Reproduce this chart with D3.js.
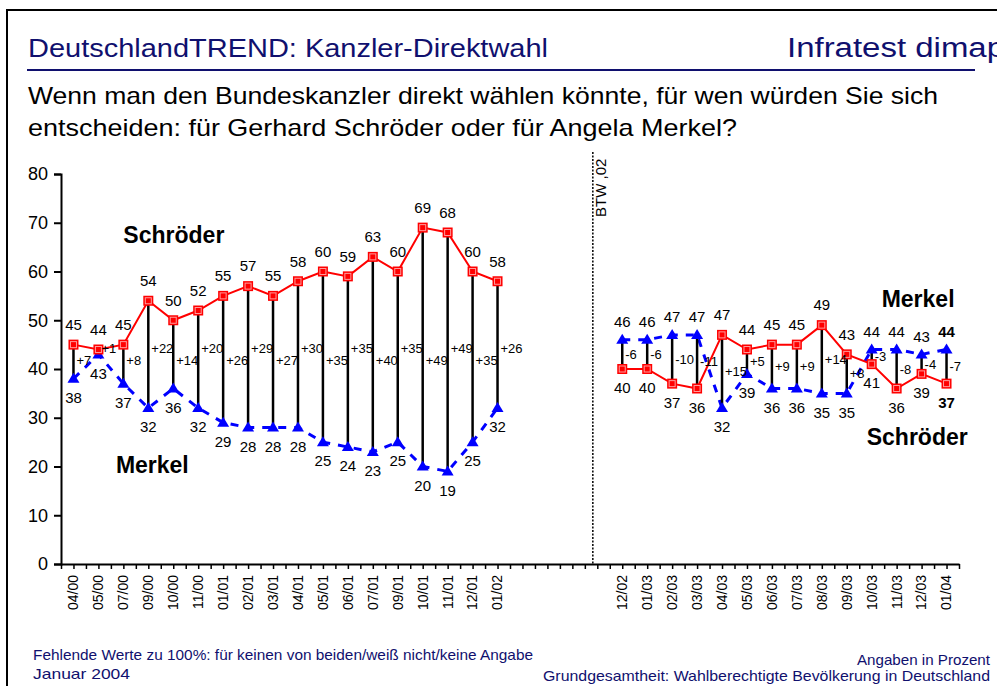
<!DOCTYPE html>
<html>
<head>
<meta charset="utf-8">
<script src="https://cdn.jsdelivr.net/npm/d3@7"></script>
<style>
    body { margin: 0; background: #fff; }
    svg text { font-family: "Liberation Sans", Arial, sans-serif; }
</style>
</head>
<body>
<div id="chart"></div>
<script>

// categories on the x axis (empty slots = gap around the election)
const categories = ["04/00", "05/00", "07/00", "09/00", "10/00", "11/00", "01/01", "02/01", "03/01",
    "04/01", "05/01", "06/01", "07/01", "09/01", "10/01", "11/01", "12/01", "01/02",
    "", "", "", "",
    "12/02", "01/03", "02/03", "03/03", "04/03", "05/03", "06/03", "07/03", "08/03",
    "09/03", "10/03", "11/03", "12/03", "01/04"];

// Schröder (red) and Merkel (blue), percent
const schroeder = [45, 44, 45, 54, 50, 52, 55, 57, 55, 58, 60, 59, 63, 60, 69, 68, 60, 58,
    null, null, null, null,
    40, 40, 37, 36, 47, 44, 45, 45, 49, 43, 41, 36, 39, 37];
const merkel = [38, 43, 37, 32, 36, 32, 29, 28, 28, 28, 25, 24, 23, 25, 20, 19, 25, 32,
    null, null, null, null,
    46, 46, 47, 47, 32, 39, 36, 36, 35, 35, 44, 44, 43, 44];

const yTicks = [0, 10, 20, 30, 40, 50, 60, 70, 80];

// first category after the Bundestagswahl 2002
const firstAfterElection = 22;
const btwLabel = "BTW ,02";

const titleText = "DeutschlandTREND: Kanzler-Direktwahl";
const brandText = "Infratest dimap";
const questionLines = ["Wenn man den Bundeskanzler direkt wählen könnte, für wen würden Sie sich",
    "entscheiden: für Gerhard Schröder oder für Angela Merkel?"];
const footLeft = ["Fehlende Werte zu 100%: für keinen von beiden/weiß nicht/keine Angabe", "Januar 2004"];
const footRight = ["Angaben in Prozent", "Grundgesamtheit: Wahlberechtigte Bevölkerung in Deutschland"];


class TrendVis {

    constructor(parentElement) {
        this.parentElement = parentElement;
        this.data = categories.map((c, i) => ({i: i, label: c, s: schroeder[i], m: merkel[i]}));
        this.initVis();
    }

    initVis() {
        let vis = this;
        vis.width = 997;
        vis.height = 686;
        vis.navy = "#10106e";

        vis.svg = d3.select("#" + vis.parentElement).append("svg")
            .attr("width", vis.width)
            .attr("height", vis.height);

        // frame
        vis.svg.append("path")
            .attr("d", `M7,${vis.height + 5} L7,10 L${vis.width + 5},10`)
            .attr("fill", "none")
            .attr("stroke", "#000")
            .attr("stroke-width", 2);

        // header
        vis.svg.append("text")
            .attr("x", 28).attr("y", 57)
            .attr("font-size", 25)
            .attr("fill", vis.navy)
            .attr("textLength", 520)
            .attr("lengthAdjust", "spacingAndGlyphs")
            .text(titleText);

        vis.svg.append("text")
            .attr("x", 787).attr("y", 57)
            .attr("font-size", 27)
            .attr("fill", vis.navy)
            .attr("textLength", 218)
            .attr("lengthAdjust", "spacingAndGlyphs")
            .text(brandText);

        vis.svg.append("line")
            .attr("x1", 27).attr("x2", 975)
            .attr("y1", 70).attr("y2", 70)
            .attr("stroke", vis.navy)
            .attr("stroke-width", 2);

        vis.svg.selectAll(".question")
            .data(questionLines)
            .enter().append("text")
            .attr("class", "question")
            .attr("x", 28)
            .attr("y", (d, i) => 104 + i * 32)
            .attr("font-size", 24)
            .attr("fill", "#000")
            .attr("textLength", (d, i) => i === 0 ? 910 : 709)
            .attr("lengthAdjust", "spacingAndGlyphs")
            .text(d => d);

        // footer
        vis.svg.selectAll(".foot-left")
            .data(footLeft)
            .enter().append("text")
            .attr("class", "foot-left")
            .attr("x", 33)
            .attr("y", (d, i) => 660 + i * 19)
            .attr("font-size", 15)
            .attr("fill", vis.navy)
            .attr("textLength", (d, i) => i === 0 ? 500 : 97)
            .attr("lengthAdjust", "spacingAndGlyphs")
            .text(d => d);

        vis.svg.selectAll(".foot-right")
            .data(footRight)
            .enter().append("text")
            .attr("class", "foot-right")
            .attr("x", 990)
            .attr("y", (d, i) => 665 + i * 16)
            .attr("font-size", 15)
            .attr("text-anchor", "end")
            .attr("fill", vis.navy)
            .attr("textLength", (d, i) => i === 0 ? 133 : 447)
            .attr("lengthAdjust", "spacingAndGlyphs")
            .text(d => d);

        // scales
        vis.x = d3.scaleLinear()
            .domain([-0.5, categories.length - 0.5])
            .range([61, 959]);

        vis.y = d3.scaleLinear()
            .domain([0, 80])
            .range([564, 174]);

        vis.drawAxes();
        vis.drawSeries();
    }

    drawAxes() {
        let vis = this;

        // y axis
        vis.yAxis = d3.axisLeft(vis.y)
            .tickValues(yTicks)
            .tickSize(7)
            .tickPadding(6);

        vis.svg.append("g")
            .attr("class", "y-axis")
            .attr("transform", `translate(${vis.x.range()[0]},0)`)
            .call(vis.yAxis)
            .call(g => g.select(".domain").attr("stroke-width", 2))
            .call(g => g.selectAll(".tick line").attr("stroke-width", 2))
            .call(g => g.selectAll("text")
                .attr("font-size", 18)
                .attr("font-family", "Liberation Sans, Arial, sans-serif")
                .attr("fill", "#000"));

        // x axis: ticks on every half slot
        let halfTicks = d3.range(-0.5, categories.length, 0.5);
        vis.xAxis = d3.axisBottom(vis.x)
            .tickValues(halfTicks)
            .tickSize(5)
            .tickSizeOuter(0)
            .tickFormat("");

        vis.svg.append("g")
            .attr("class", "x-axis")
            .attr("transform", `translate(0,${vis.y(0)})`)
            .call(vis.xAxis)
            .call(g => g.select(".domain").attr("stroke-width", 2))
            .call(g => g.selectAll(".tick line").attr("stroke-width", 1.5));

        vis.svg.selectAll(".x-label")
            .data(vis.data.filter(d => d.label !== ""))
            .enter().append("text")
            .attr("class", "x-label")
            .attr("transform", d => `translate(${vis.x(d.i)},575) rotate(-90)`)
            .attr("dy", "0.35em")
            .attr("text-anchor", "end")
            .attr("font-size", 14)
            .text(d => d.label);

        // election marker
        let btwX = (vis.x(firstAfterElection - 1) + vis.x(firstAfterElection - 2)) / 2 + 8;
        vis.svg.append("line")
            .attr("x1", btwX).attr("x2", btwX)
            .attr("y1", 152).attr("y2", vis.y(0))
            .attr("stroke", "#000")
            .attr("stroke-width", 1.5)
            .attr("stroke-dasharray", "2,1.5");

        vis.svg.append("text")
            .attr("transform", `translate(${btwX + 13},217) rotate(-90)`)
            .attr("font-size", 15)
            .text(btwLabel);
    }

    drawSeries() {
        let vis = this;
        let full = vis.data.filter(d => d.s != null);

        // Merkel dashed line
        let lineM = d3.line()
            .defined(d => d.m != null)
            .x(d => vis.x(d.i))
            .y(d => vis.y(d.m));

        vis.svg.append("path")
            .datum(vis.data)
            .attr("d", lineM)
            .attr("fill", "none")
            .attr("stroke", "#0000ff")
            .attr("stroke-width", 3)
            .attr("stroke-dasharray", "8,8");

        // connecting lines between both values
        vis.svg.selectAll(".hilo")
            .data(full)
            .enter().append("line")
            .attr("class", "hilo")
            .attr("x1", d => vis.x(d.i)).attr("x2", d => vis.x(d.i))
            .attr("y1", d => vis.y(d.s)).attr("y2", d => vis.y(d.m))
            .attr("stroke", "#000")
            .attr("stroke-width", 2.5);

        // Schröder line
        let lineS = d3.line()
            .defined(d => d.s != null)
            .x(d => vis.x(d.i))
            .y(d => vis.y(d.s));

        vis.svg.append("path")
            .datum(vis.data)
            .attr("d", lineS)
            .attr("fill", "none")
            .attr("stroke", "#ff0000")
            .attr("stroke-width", 2);

        // markers
        vis.svg.selectAll(".tri")
            .data(full)
            .enter().append("path")
            .attr("class", "tri")
            .attr("d", "M0,-6L6,4L-6,4Z")
            .attr("transform", d => `translate(${vis.x(d.i)},${vis.y(d.m)})`)
            .attr("fill", "#0000ff");

        let sq = vis.svg.selectAll(".sq")
            .data(full)
            .enter().append("g")
            .attr("class", "sq")
            .attr("transform", d => `translate(${vis.x(d.i)},${vis.y(d.s)})`);
        sq.append("rect")
            .attr("x", -5).attr("y", -5).attr("width", 10).attr("height", 10)
            .attr("fill", "#ff0000");
        sq.append("rect")
            .attr("x", -3).attr("y", -3).attr("width", 6).attr("height", 6)
            .attr("fill", "none")
            .attr("stroke", "#ff9a9a")
            .attr("stroke-width", 1);

        // value labels
        let last = categories.length - 1;
        let above = -20, below = 19;

        vis.svg.selectAll(".lab-s")
            .data(full)
            .enter().append("text")
            .attr("class", "lab-s")
            .attr("x", d => vis.x(d.i))
            .attr("y", d => vis.y(d.s) + (d.s >= d.m ? above : below))
            .attr("dy", "0.35em")
            .attr("text-anchor", "middle")
            .attr("font-size", 15)
            .attr("font-weight", d => d.i === last ? "bold" : "normal")
            .text(d => d.s);

        vis.svg.selectAll(".lab-m")
            .data(full)
            .enter().append("text")
            .attr("class", "lab-m")
            .attr("x", d => vis.x(d.i))
            .attr("y", d => vis.y(d.m) + (d.m > d.s ? above + 2 : below))
            .attr("dy", "0.35em")
            .attr("text-anchor", "middle")
            .attr("font-size", 15)
            .attr("font-weight", d => d.i === last ? "bold" : "normal")
            .text(d => d.m);

        // difference labels
        vis.svg.selectAll(".lab-diff")
            .data(full)
            .enter().append("text")
            .attr("class", "lab-diff")
            .attr("x", d => vis.x(d.i) + 3)
            .attr("y", d => d.i < firstAfterElection
                ? vis.y(43) + (d.i % 2 === 1 ? -6 : 6)
                : (vis.y(d.s) + vis.y(d.m)) / 2)
            .attr("dy", "0.35em")
            .attr("font-size", 13)
            .text(d => {
                let diff = d.s - d.m;
                return diff > 0 ? "+" + diff : String(diff);
            });

        // series names
        let names = [
            {text: "Schröder", i: 2, v: 67.5},
            {text: "Merkel", i: 1.7, v: 20.3},
            {text: "Merkel", i: 32.4, v: 54.4},
            {text: "Schröder", i: 31.8, v: 26}
        ];
        vis.svg.selectAll(".series-name")
            .data(names)
            .enter().append("text")
            .attr("class", "series-name")
            .attr("x", d => vis.x(d.i))
            .attr("y", d => vis.y(d.v))
            .attr("dy", "0.35em")
            .attr("font-size", 23)
            .attr("font-weight", "bold")
            .text(d => d.text);
    }
}

new TrendVis("chart");

</script>
</body>
</html>
